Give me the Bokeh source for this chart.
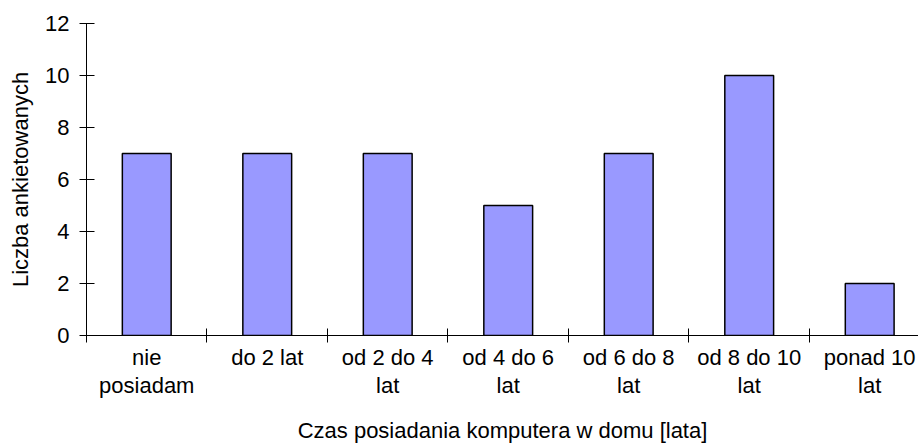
from bokeh.plotting import figure
from bokeh.models import FixedTicker, Range1d
from bokeh.embed import file_html
from bokeh.resources import INLINE

categories = ["nie\nposiadam", "do 2 lat", "od 2 do 4\nlat", "od 4 do 6\nlat",
              "od 6 do 8\nlat", "od 8 do 10\nlat", "ponad 10\nlat"]
values = [7, 7, 7, 5, 7, 10, 2]
y_ticks = [0, 2, 4, 6, 8, 10, 12]
x_title = "Czas posiadania komputera w domu [lata]"
y_title = "Liczba ankietowanych"

FONT = "Liberation Sans"
FS = "22px"

n = len(categories)
centers = [i + 0.5 for i in range(n)]
bounds = list(range(n))

p = figure(width=918, height=447, output_backend="svg", toolbar_location=None,
           x_range=Range1d(0, 6.905), y_range=Range1d(0, 12),
           min_border_left=86, min_border_top=23, min_border_right=0,
           min_border_bottom=112)
p.outline_line_color = None
p.background_fill_color = "white"
p.border_fill_color = "white"

p.vbar(x=centers, top=values, width=0.405, fill_color="#9999FF",
       line_color="black", line_width=1.5)

# x axis
xa = p.xaxis[0]
xa.ticker = FixedTicker(ticks=centers, minor_ticks=bounds)
xa.major_label_overrides = {c: lab for c, lab in zip(centers, categories)}
xa.major_tick_line_color = None
xa.minor_tick_in = 7
xa.minor_tick_out = 7
xa.minor_tick_line_color = "black"
xa.axis_line_color = "black"
xa.major_label_text_font = FONT
xa.major_label_text_font_size = FS
xa.major_label_text_color = "black"
xa.major_label_text_line_height = 1.15
xa.major_label_standoff = 2
xa.axis_label = x_title
xa.axis_label_text_font = FONT
xa.axis_label_text_font_size = FS
xa.axis_label_text_font_style = "normal"
xa.axis_label_text_color = "black"
xa.axis_label_standoff = 17

# y axis
ya = p.yaxis[0]
ya.ticker = FixedTicker(ticks=y_ticks, minor_ticks=[])
ya.major_tick_in = 8
ya.major_tick_out = 7
ya.major_tick_line_color = "black"
ya.axis_line_color = "black"
ya.major_label_text_font = FONT
ya.major_label_text_font_size = FS
ya.major_label_text_color = "black"
ya.major_label_standoff = 10
ya.axis_label = y_title
ya.axis_label_text_font = FONT
ya.axis_label_text_font_size = FS
ya.axis_label_text_font_style = "normal"
ya.axis_label_text_color = "black"
ya.axis_label_standoff = 9

p.xgrid.grid_line_color = None
p.ygrid.ticker = FixedTicker(ticks=[12])
p.ygrid.grid_line_color = "#808080"

open("out.html", "w").write(file_html(p, INLINE))
